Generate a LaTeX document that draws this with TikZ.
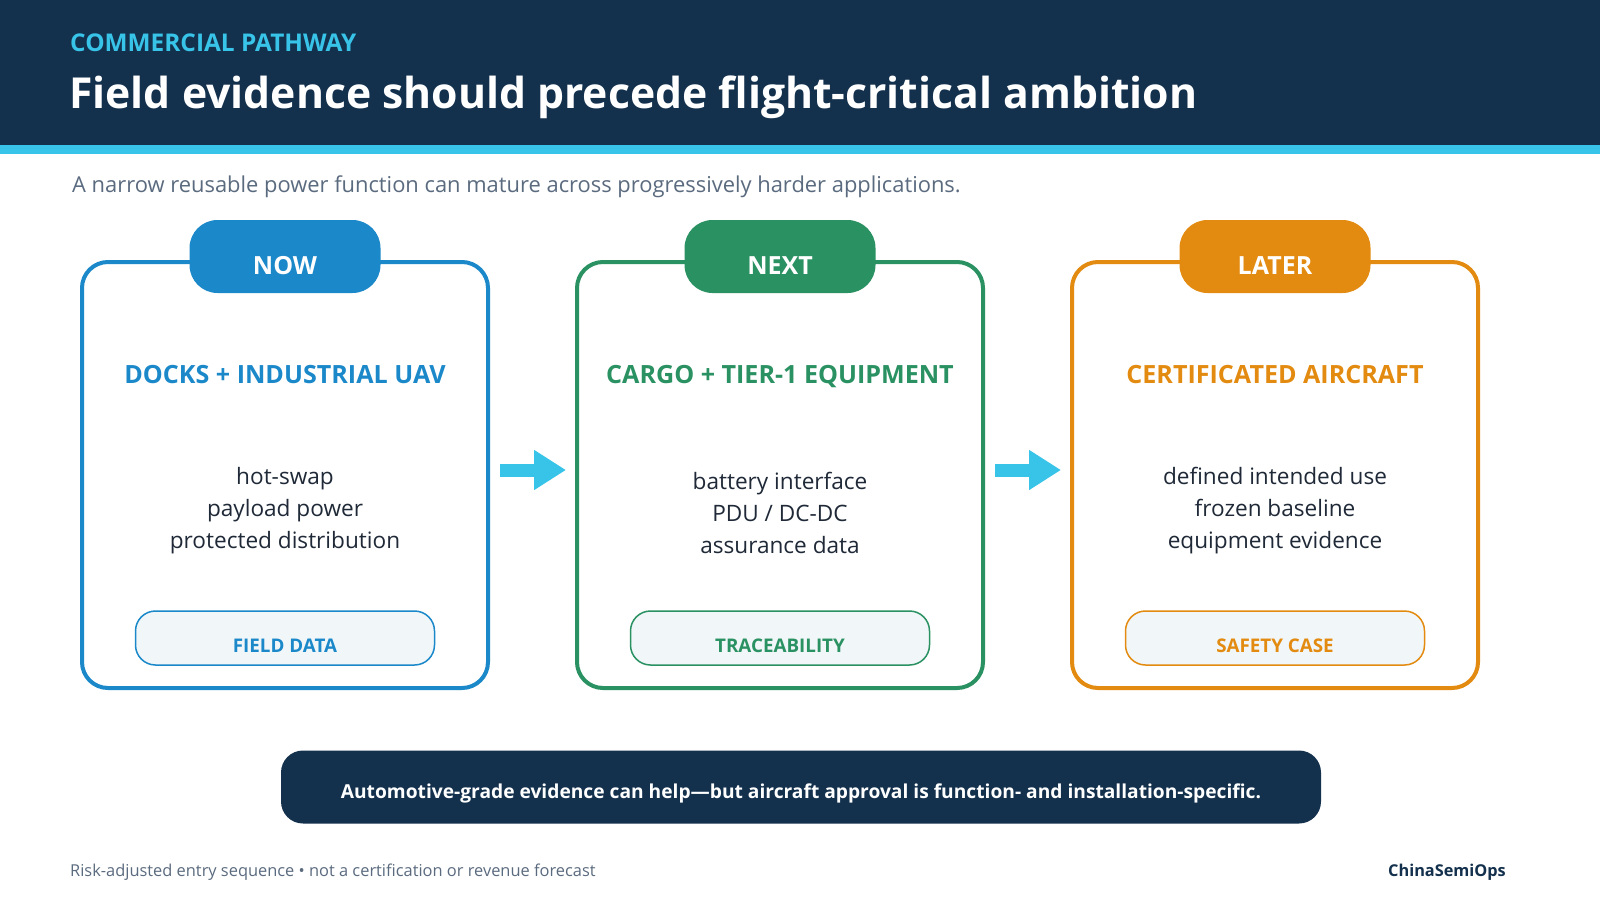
\documentclass[tikz,border=0pt]{standalone}
\usepackage{fontspec}
\setmainfont{Open Sans}
\usetikzlibrary{arrows.meta}
\definecolor{navy}{HTML}{13304D}
\definecolor{cyanx}{HTML}{38C4E8}
\definecolor{cblue}{HTML}{1A88C9}
\definecolor{cgreen}{HTML}{2A9162}
\definecolor{corange}{HTML}{E38B10}
\definecolor{bodytext}{HTML}{1F2937}
\definecolor{subgray}{HTML}{5B6B7F}
\definecolor{pillfill}{HTML}{F1F6F9}
\newcommand{\fs}[2]{\fontsize{#1}{#2}\selectfont}
\begin{document}
\begin{tikzpicture}[x=1pt,y=-1pt,
  card/.style={draw=#1, line width=4pt, rounded corners=26pt, minimum width=406pt, minimum height=426pt, fill=white, inner sep=0pt},
  tabbox/.style={fill=#1, rounded corners=28pt, minimum width=191pt, minimum height=73pt, inner sep=0pt},
  tabtxt/.style={text=white, font=\fs{25}{30}\bfseries, inner sep=0pt, anchor=base},
  headtxt/.style={text=#1, font=\fs{25.1}{28}\bfseries, inner sep=0pt, anchor=base},
  bodytxt/.style={text=bodytext, font=\fs{22.6}{32}, align=center, inner sep=0pt},
  pill/.style={draw=#1, line width=1.5pt, fill=pillfill, rounded corners=20pt, minimum width=299pt, minimum height=54pt, inner sep=0pt},
  pilltxt/.style={text=#1, font=\fs{18.8}{22}\bfseries, inner sep=0pt, anchor=base},
  flow/.style={draw=cyanx, line width=13pt, -{Triangle[length=32pt,width=38pt]}, shorten <=10pt, shorten >=9pt}
]
\useasboundingbox (0,0) rectangle (1600,900);
\fill[white] (0,0) rectangle (1600,900);
% header
\fill[navy] (0,0) rectangle (1600,145);
\fill[cyanx] (0,145) rectangle (1600,154);
\node[anchor=base west, inner sep=0pt, text=cyanx, font=\fs{24.4}{28}\bfseries] (kicker) at (70,51) {COMMERCIAL PATHWAY};
\node[anchor=base west, inner sep=0pt, text=white, font=\fs{42.7}{50}\bfseries] (title) at (69,108) {Field evidence should precede flight-critical ambition};
\node[anchor=base west, inner sep=0pt, text=subgray, font=\fs{21.9}{26}] (sub) at (72,192) {A narrow reusable power function can mature across progressively harder applications.};

% cards
\node[card=cblue] (c1) at (285,475) {};
\node[card=cgreen] (c2) at (780,475) {};
\node[card=corange] (c3) at (1275,475) {};

\node[tabbox=cblue] (t1) at (285,256.5) {};
\node[tabbox=cgreen] (t2) at (780,256.5) {};
\node[tabbox=corange] (t3) at (1275,256.5) {};
\node[tabtxt] (n1) at (285,274) {NOW};
\node[tabtxt] (n2) at (780,274) {NEXT};
\node[tabtxt] (n3) at (1275,274) {LATER};

\node[headtxt=cblue] (h1) at (285,383) {DOCKS + INDUSTRIAL UAV};
\node[headtxt=cgreen] (h2) at (780,383) {CARGO + TIER-1 EQUIPMENT};
\node[headtxt=corange] (h3) at (1275,383) {CERTIFICATED AIRCRAFT};

\node[bodytxt] (b1) at (285,511) {hot-swap\\payload power\\protected distribution};
\node[bodytxt] (b2) at (780,513) {battery interface\\PDU / DC-DC\\assurance data};
\node[bodytxt] (b3) at (1275,511) {defined intended use\\frozen baseline\\equipment evidence};

\node[pill=cblue] (p1) at (285,638) {};
\node[pill=cgreen] (p2) at (780,638) {};
\node[pill=corange] (p3) at (1275,638) {};
\node[pilltxt=cblue] (l1) at (285,652.5) {FIELD DATA};
\node[pilltxt=cgreen] (l2) at (780,652.5) {TRACEABILITY};
\node[pilltxt=corange] (l3) at (1275,652.5) {SAFETY CASE};

% arrows
\draw[flow] ([yshift=5pt]c1.east) -- ([yshift=5pt]c2.west);
\draw[flow] ([yshift=5pt]c2.east) -- ([yshift=5pt]c3.west);

% banner
\node[fill=navy, rounded corners=22pt, minimum width=1040pt, minimum height=73pt, inner sep=0pt] (banner) at (801,787) {};
\node[anchor=base, inner sep=0pt, text=white, font=\fs{19.2}{22}\bfseries] (bannertxt) at (801,798.5) {Automotive-grade evidence can help---but aircraft approval is function- and installation-specific.};

% footer
\node[anchor=base west, inner sep=0pt, text=subgray, font=\fs{16.4}{20}] (foot) at (70,876) {Risk-adjusted entry sequence • not a certification or revenue forecast};
\node[anchor=base east, inner sep=0pt, text=navy, font=\fs{16.3}{20}\bfseries] (brand) at (1506,876) {ChinaSemiOps};
\end{tikzpicture}
\end{document}
